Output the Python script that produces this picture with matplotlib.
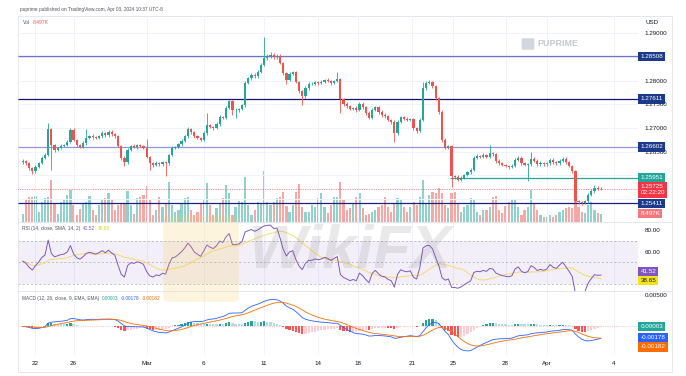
import numpy as np
import pandas as pd
import matplotlib
matplotlib.use("Agg")
import matplotlib.pyplot as plt
import matplotlib.transforms as mtransforms
from matplotlib.patches import Rectangle, FancyBboxPatch

plt.rcParams['font.family'] = ['Liberation Sans', 'DejaVu Sans']

# GBPUSD 4H closes
closes = [
    1.2631, 1.2626, 1.2616, 1.2609, 1.2618, 1.2626, 1.2637, 1.2643, 1.2698, 1.2664,
    1.2654, 1.2658, 1.2662, 1.2664, 1.2671, 1.2696, 1.2675, 1.2664, 1.2660, 1.2668,
    1.2679, 1.2683, 1.2681, 1.2679, 1.2683, 1.2689, 1.2685, 1.2692, 1.2687, 1.2683,
    1.2662, 1.2637, 1.2628, 1.2654, 1.2662, 1.2660, 1.2664, 1.2662, 1.2658, 1.2639,
    1.2626, 1.2622, 1.2626, 1.2624, 1.2628, 1.2626, 1.2643, 1.2658, 1.2660, 1.2666,
    1.2673, 1.2683, 1.2698, 1.2692, 1.2683, 1.2679, 1.2675, 1.2689, 1.2706, 1.2702,
    1.2700, 1.2708, 1.2723, 1.2721, 1.2742, 1.2757, 1.2738, 1.2738, 1.2740, 1.2748,
    1.2795, 1.2805, 1.2812, 1.2809, 1.2818, 1.2833, 1.2847, 1.2852, 1.2854, 1.2849,
    1.2852, 1.2837, 1.2816, 1.2801, 1.2814, 1.2818, 1.2797, 1.2778, 1.2767, 1.2784,
    1.2793, 1.2793, 1.2797, 1.2795, 1.2797, 1.2801, 1.2799, 1.2795, 1.2799, 1.2803,
    1.2761, 1.2751, 1.2746, 1.2740, 1.2742, 1.2738, 1.2751, 1.2744, 1.2732, 1.2721,
    1.2738, 1.2744, 1.2734, 1.2727, 1.2725, 1.2717, 1.2713, 1.2689, 1.2713, 1.2723,
    1.2719, 1.2717, 1.2719, 1.2700, 1.2694, 1.2717, 1.2784, 1.2795, 1.2797, 1.2788,
    1.2763, 1.2734, 1.2675, 1.2658, 1.2662, 1.2599, 1.2597, 1.2591, 1.2595, 1.2601,
    1.2607, 1.2612, 1.2637, 1.2641, 1.2639, 1.2643, 1.2639, 1.2647, 1.2645, 1.2631,
    1.2626, 1.2622, 1.2620, 1.2618, 1.2620, 1.2633, 1.2637, 1.2626, 1.2622, 1.2624,
    1.2635, 1.2631, 1.2624, 1.2626, 1.2624, 1.2626, 1.2633, 1.2628, 1.2626, 1.2631,
    1.2635, 1.2628, 1.2620, 1.2609, 1.2546, 1.2544, 1.2542, 1.2546, 1.2559, 1.2567,
    1.2574, 1.2572, 1.25725,
]
first_open = 1.2628

# wick lengths beyond the body, in pips
wick_up = [
    3, 2, 3, 2, 4, 3, 3, 4, 12, 3,
    3, 2, 4, 3, 3, 4, 3, 2, 3, 4,
    19, 3, 4, 3, 3, 5, 3, 4, 3, 2,
    3, 2, 3, 4, 3, 5, 3, 3, 2, 18,
    3, 2, 4, 3, 3, 2, 3, 4, 3, 3,
    4, 3, 5, 3, 2, 3, 3, 4, 26, 3,
    3, 4, 5, 3, 4, 3, 3, 4, 3, 3,
    4, 3, 4, 3, 5, 4, 45, 4, 5, 3,
    4, 3, 3, 2, 4, 3, 3, 2, 3, 4,
    3, 4, 3, 3, 5, 3, 4, 3, 3, 14,
    3, 3, 4, 3, 3, 4, 3, 3, 2, 3,
    4, 3, 3, 3, 4, 3, 3, 3, 4, 3,
    3, 4, 3, 3, 2, 4, 13, 4, 4, 3,
    3, 3, 3, 4, 3, 3, 2, 3, 4, 3,
    3, 4, 3, 4, 3, 4, 3, 17, 3, 3,
    3, 2, 3, 3, 4, 3, 4, 3, 3, 3,
    15, 3, 3, 4, 3, 3, 4, 3, 3, 4,
    3, 3, 3, 3, 3, 3, 2, 3, 4, 4,
    5, 4, 3,
]
wick_dn = [
    3, 3, 4, 5, 3, 3, 2, 3, 3, 52,
    4, 3, 3, 3, 2, 3, 3, 4, 3, 3,
    3, 3, 4, 3, 3, 3, 4, 3, 3, 3,
    3, 4, 8, 3, 3, 3, 4, 3, 3, 3,
    14, 4, 3, 3, 3, 27, 3, 3, 2, 3,
    3, 3, 3, 4, 3, 3, 3, 3, 3, 3,
    4, 3, 3, 3, 3, 3, 10, 17, 4, 3,
    3, 3, 3, 4, 3, 3, 3, 3, 4, 3,
    3, 3, 4, 8, 3, 3, 3, 4, 19, 3,
    3, 3, 3, 4, 3, 3, 3, 4, 3, 3,
    29, 4, 3, 3, 3, 4, 3, 3, 4, 3,
    3, 3, 4, 3, 3, 3, 4, 18, 3, 3,
    3, 3, 3, 4, 4, 3, 3, 3, 3, 3,
    3, 4, 4, 3, 3, 23, 4, 3, 3, 3,
    3, 3, 3, 3, 3, 3, 3, 3, 3, 4,
    3, 3, 3, 4, 3, 3, 3, 4, 3, 33,
    3, 3, 4, 3, 3, 3, 3, 3, 4, 3,
    3, 3, 3, 3, 4, 4, 5, 3, 3, 3,
    3, 3, 3,
]

# volume, thousands
volume = [
    8, 22, 25, 25, 26, 10, 20, 24, 25, 42, 18, 8, 20, 22, 27, 32, 17, 7, 13, 18,
    20, 26, 12, 7, 17, 22, 24, 29, 22, 12, 17, 18, 19, 31, 17, 8, 24, 25, 27, 36,
    22, 7, 12, 25, 15, 19, 40, 17, 10, 12, 19, 24, 25, 12, 7, 10, 19, 22, 39, 17,
    7, 14, 19, 24, 37, 29, 7, 15, 21, 20, 45, 17, 7, 12, 20, 19, 51, 20, 17, 20,
    24, 25, 30, 16, 10, 17, 30, 38, 15, 10, 10, 17, 15, 24, 29, 15, 9, 17, 25, 25,
    40, 22, 12, 14, 19, 25, 29, 14, 7, 8, 10, 12, 15, 17, 25, 15, 10, 19, 24, 22,
    15, 10, 15, 20, 17, 25, 42, 19, 27, 30, 29, 34, 29, 17, 14, 29, 30, 19, 10, 15,
    17, 24, 22, 10, 7, 12, 12, 15, 25, 26, 12, 9, 16, 20, 23, 23, 15, 7, 12, 15,
    32, 18, 12, 7, 5, 5, 7, 5, 7, 10, 12, 14, 15, 14, 32, 15, 10, 9, 17, 20,
    12, 9, 8.5,
]

date_ticks = [4, 16, 39, 57, 76, 93, 105.5, 122.5, 135.5, 152, 165, 186]
date_labels = ["22", "26", "Mar", "6", "11", "14", "18", "21", "25", "28", "Apr", "4"]

# price scale ticks still readable in the reference (others sit under the tags)
price_ticks = [1.265, 1.270, 1.275, 1.280, 1.290]
price_grid = [1.255, 1.260, 1.265, 1.270, 1.275, 1.280, 1.285, 1.290]

levels = [1.28508, 1.27611, 1.26602, 1.25951, 1.25411]
level_labels = ["1.28508", "1.27611", "1.26602", "1.25951", "1.25411"]
level_line_colors = ["#6f73c6", "#141a6b", "#9497d4", "#26a69a", "#1b2378"]
level_tag_colors = ["#1c3a8c", "#1c3a8c", "#1c3a8c", "#22a699", "#1c3a8c"]
level_first_bar = [0, 0, 0, 135, 0]

last_price = 1.25725
countdown = "02:22:20"
vol_text = "8.497K"
rsi_text, rsi_ma_text = "41.52", "38.65"
hist_text, macd_text, signal_text = "0.00003", "-0.00178", "-0.00182"

UP, DN = "#26a69a", "#ef5350"
TXT = "#131722"
GRID = "#f0f3fa"
BORDER = "#e0e3eb"

# ---- derived series
s = pd.Series(closes)
opens = np.r_[first_open, s.values[:-1]]
c = s.values
body_hi = np.maximum(opens, c)
body_lo = np.minimum(opens, c)
highs = body_hi + np.array(wick_up) * 1e-4
lows = body_lo - np.array(wick_dn) * 1e-4
rising = c >= opens
x = np.arange(len(c))

# Wilder RSI, started from a neutral state (equal average gain and loss)
delta = np.diff(np.r_[first_open, c])
avg_g = avg_l = np.abs(delta).mean() / 2
rsi = []
for d in delta:
    avg_g = (avg_g * 13 + max(d, 0)) / 14
    avg_l = (avg_l * 13 + max(-d, 0)) / 14
    rsi.append(100 - 100 / (1 + avg_g / avg_l))
rsi = pd.Series(rsi)
rsi_ma = rsi.rolling(14, min_periods=1).mean()

ema12 = s.ewm(span=12, adjust=False).mean()
ema26 = s.ewm(span=26, adjust=False).mean()
macd = ema12 - ema26
signal = macd.ewm(span=9, adjust=False).mean()
hist = (macd - signal).values
hist_colors = []
for i, h in enumerate(hist):
    prev = hist[i - 1] if i else 0
    if h >= 0:
        hist_colors.append("#26a69a" if h > prev else "#b2dfdb")
    else:
        hist_colors.append("#ff5252" if h < prev else "#ffcdd2")

# ---- layout (pixel based)
W, H = 686, 376
fig = plt.figure(figsize=(W / 100, H / 100), dpi=100)
L, R = 18, 638


def pane(top, bottom):
    return [L / W, 1 - bottom / H, (R - L) / W, (bottom - top) / H]


ax = fig.add_axes(pane(16, 222))
axv = ax.twinx()
ax_rsi = fig.add_axes(pane(222, 291), sharex=ax)
ax_macd = fig.add_axes(pane(291, 355), sharex=ax)
ax.set_zorder(axv.get_zorder() + 1)
ax.patch.set_visible(False)

for a in (ax, axv, ax_rsi, ax_macd):
    for sp in a.spines.values():
        sp.set_visible(False)
    a.tick_params(length=0)

ax.set_xlim(-1.5, 193.7)
ax.set_ylim(1.25021, 1.29358)

# grid
for a in (ax, ax_rsi, ax_macd):
    for t in date_ticks:
        a.axvline(t, color=GRID, lw=0.7, zorder=0)
for p in price_grid:
    ax.axhline(p, color=GRID, lw=0.7, zorder=0)

# volume
vol_colors = [UP if r else DN for r in rising]
axv.bar(x, volume, width=0.7, color=vol_colors, alpha=0.5, linewidth=0)
axv.set_ylim(0, 206)
axv.set_yticks([])

# candles
cols = np.where(rising, UP, DN)
ax.vlines(x, lows, highs, colors=cols, lw=0.6, zorder=3)
ax.bar(x, np.maximum(body_hi - body_lo, 0.00006), bottom=body_lo, width=0.7,
       color=cols, linewidth=0, zorder=4)

# horizontal levels
for lv, col, start in zip(levels, level_line_colors, level_first_bar):
    ax.hlines(lv, start - 0.5 if start else -1.5, 193.7, color=col, lw=0.9, zorder=2)
ax.axhline(last_price, color="#f23645", lw=0.5, ls=(0, (1, 1.5)), zorder=2)

ax.yaxis.tick_right()
ax.set_yticks(price_ticks)
ax.set_yticklabels([f"{p:.5f}" for p in price_ticks])
ax.tick_params(axis="y", labelsize=4.5, labelcolor=TXT, pad=5)
ax.tick_params(axis="x", labelbottom=False)


def tag(a, value, text, face, fg="white", dy=0, va="center"):
    tr = mtransforms.blended_transform_factory(a.transAxes, a.transData)
    a.annotate(text, xy=(1.004, value), xycoords=tr, xytext=(0, dy),
               textcoords="offset points", ha="left", va=va, fontsize=4.5,
               color=fg, annotation_clip=False, zorder=10, linespacing=1.25,
               bbox=dict(boxstyle="square,pad=0.35", fc=face, ec="none"))


for lv, txt, face in zip(levels, level_labels, level_tag_colors):
    tag(ax, lv, txt, face)
tag(ax, last_price, f"{last_price:.5f}\n{countdown}", "#f23645", dy=3, va="top")
tag(axv, volume[-1], vol_text, "#f7777d")

# RSI
ax_rsi.axhspan(30, 70, color="#7e57c2", alpha=0.09, lw=0, zorder=0)
for lvl in (70, 50, 30):
    ax_rsi.axhline(lvl, color="#9598a1", lw=0.5, ls=(0, (3, 3)), alpha=0.8)
ax_rsi.plot(x, rsi_ma, color="#f3d54e", lw=0.7, alpha=0.8, zorder=3)
ax_rsi.plot(x, rsi, color="#7e57c2", lw=0.7, zorder=4)
ax_rsi.set_ylim(23.5, 87.3)
ax_rsi.yaxis.tick_right()
ax_rsi.set_yticks([60, 80])
ax_rsi.set_yticklabels(["60.00", "80.00"])
ax_rsi.tick_params(axis="y", labelsize=4.5, labelcolor=TXT, pad=5)
ax_rsi.tick_params(axis="x", labelbottom=False)
tag(ax_rsi, float(rsi_text), rsi_text, "#7e57c2")
tag(ax_rsi, float(rsi_ma_text), rsi_ma_text, "#f5e31a", fg=TXT, dy=-4.3)

# MACD
ax_macd.bar(x, hist, width=0.7, color=hist_colors, linewidth=0, zorder=2)
ax_macd.plot(x, macd, color="#2962ff", lw=0.6, zorder=3)
ax_macd.plot(x, signal, color="#ff6d00", lw=0.6, zorder=3)
ax_macd.axhline(0, color="#f7a1a8", lw=0.4, ls=(0, (2, 2)), zorder=1)
ax_macd.set_ylim(-0.004524, 0.005635)
ax_macd.yaxis.tick_right()
ax_macd.set_yticks([0.005])
ax_macd.set_yticklabels(["0.00500"])
ax_macd.tick_params(axis="y", labelsize=4.5, labelcolor=TXT, pad=5)
tag(ax_macd, float(hist_text), hist_text, "#26a69a")
tag(ax_macd, float(macd_text), macd_text, "#2962ff")
tag(ax_macd, float(signal_text), signal_text, "#ff6d00", dy=-6.5)

ax_macd.set_xticks(date_ticks)
ax_macd.set_xticklabels(date_labels)
ax_macd.tick_params(axis="x", labelsize=4.5, labelcolor=TXT, pad=4)


# ---- frame, separators, headers, watermarks
def px(xp, yp):
    return xp / W, 1 - yp / H


renderer = fig.canvas.get_renderer()


def legend_row(x0, y0, parts, size=3.4, gap=2.5):
    """Write coloured text pieces one after another on one line."""
    xp = x0
    for txt, col in parts:
        t = fig.text(*px(xp, y0), txt, fontsize=size, color=col, va="center")
        xp += t.get_window_extent(renderer).width + gap


fig.add_artist(Rectangle(px(18, 372), (672 - 18) / W, (372 - 16) / H,
                         transform=fig.transFigure, fill=False, ec=BORDER, lw=0.6))
for yy in (222, 291):
    fig.add_artist(plt.Line2D([18 / W, 672 / W], [1 - yy / H] * 2,
                              transform=fig.transFigure, color=BORDER, lw=0.6))

fig.text(*px(20, 9), "puprime published on TradingView.com, Apr 03, 2024 10:37 UTC-8",
         fontsize=3.4, color="#50535e", va="center")
fig.text(*px(646, 23), "USD", fontsize=4.5, color=TXT, va="center")
legend_row(23, 22.5, [("Vol", "#50535e"), (vol_text, "#f7525f")], size=3.6)
legend_row(22, 228.5, [("RSI (14, close, SMA, 14, 2)", "#50535e"),
                       (rsi_text, "#7e57c2"), (rsi_ma_text, "#e8cf1a")])
legend_row(22, 298.5, [("MACD (12, 26, close, 9, EMA, EMA)", "#50535e"),
                       (hist_text, "#26a69a"), (macd_text, "#2962ff"),
                       (signal_text, "#ff6d00")])

# PU Prime watermark
fig.add_artist(FancyBboxPatch(px(523, 49), 10 / W, 10 / H, boxstyle="round,pad=0.002",
                              transform=fig.transFigure, fc="#c9ccd4", ec="none", alpha=0.8))
fig.text(*px(537, 44), "PUPRIME", fontsize=6.5, fontweight="bold", color="#c4c8d0", va="center")

# WikiFX watermark
fig.add_artist(FancyBboxPatch(px(170, 298), 62 / W, 78 / H, boxstyle="round,pad=0.01",
                              transform=fig.transFigure, fc="#f6c744", ec="none", alpha=0.18))
fig.text(*px(350, 252), "WikiFX", fontsize=44, fontweight="bold", style="italic",
         color="#7a7a7a", alpha=0.16, ha="center", va="center")

fig.savefig("out.png", dpi=100)
